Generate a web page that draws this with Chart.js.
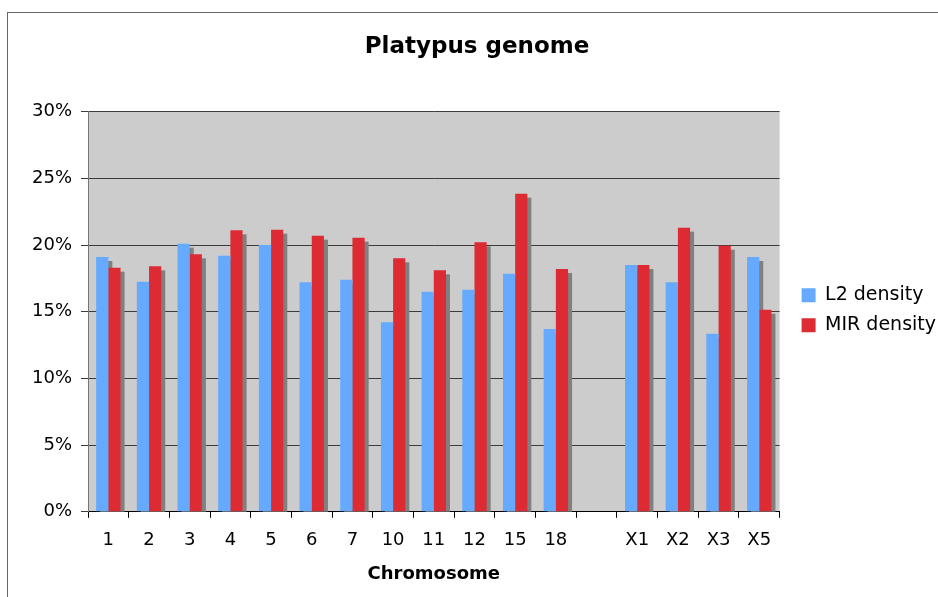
<!DOCTYPE html>
<html>
<head>
  <meta charset="UTF-8">
  <title>Platypus genome</title>
  <script src="https://cdn.jsdelivr.net/npm/chart.js@4.4.0/dist/chart.umd.min.js"></script>
  <style>
    body { margin: 0; background: #fff; }
    canvas { display: block; }
  </style>
</head>
<body>
  <canvas id="chart" width="938" height="597"></canvas>
  <script>
    // chromosome labels (blank slot separates autosomes from X chromosomes)
    const chromosomes = ['1', '2', '3', '4', '5', '6', '7', '10', '11', '12', '15', '18', '', 'X1', 'X2', 'X3', 'X5'];
    const l2Density = [19.1, 17.25, 20.1, 19.2, 20.0, 17.2, 17.4, 14.2, 16.5, 16.65, 17.85, 13.7, null, 18.5, 17.2, 13.35, 19.1];
    const mirDensity = [18.3, 18.4, 19.3, 21.1, 21.15, 20.7, 20.55, 19.0, 18.1, 20.2, 23.85, 18.2, null, 18.5, 21.3, 19.95, 15.15];

    const font = 'DejaVu Sans';

    // gray plot area + outer frame, excel style
    const backdrop = {
      id: 'backdrop',
      beforeDraw(chart) {
        const { ctx, chartArea: a } = chart;
        ctx.save();
        ctx.fillStyle = '#cccccc';
        ctx.fillRect(a.left, a.top, a.right - a.left, a.bottom - a.top);
        ctx.strokeStyle = '#666';
        ctx.lineWidth = 1;
        ctx.strokeRect(7.5, 12.5, 1200, 1200);
        ctx.restore();
      }
    };

    // gray drop shadow offset 4px right/down from every bar, drawn before the bars
    const barShadow = {
      id: 'barShadow',
      beforeDatasetsDraw(chart) {
        const { ctx, chartArea: a } = chart;
        ctx.save();
        ctx.beginPath();
        ctx.rect(a.left, a.top, a.right - a.left, a.bottom - a.top);
        ctx.clip();
        ctx.fillStyle = '#808080';
        chart.data.datasets.forEach((ds, i) => {
          chart.getDatasetMeta(i).data.forEach((bar, j) => {
            if (ds.data[j] == null) return;
            const p = bar.getProps(['x', 'y', 'base', 'width'], true);
            ctx.fillRect(p.x - p.width / 2 + 4, p.y + 4, p.width, p.base - p.y);
          });
        });
        ctx.restore();
      }
    };

    new Chart(document.getElementById('chart'), {
      type: 'bar',
      data: {
        labels: chromosomes,
        datasets: [
          { label: 'L2 density', data: l2Density, backgroundColor: '#66aaff' },
          { label: 'MIR density', data: mirDensity, backgroundColor: '#dd2b33' }
        ]
      },
      options: {
        responsive: false,
        animation: false,
        categoryPercentage: 0.6,
        barPercentage: 1.0,
        layout: { padding: { left: 8, right: -8, top: 0, bottom: 10 } },
        plugins: {
          title: {
            display: true,
            text: 'Platypus genome',
            color: '#000',
            font: { family: font, size: 23, weight: 'bold' },
            padding: { top: 33, bottom: 51 }
          },
          legend: {
            position: 'right',
            // empty legend title only pushes the items down a little
            title: { display: true, text: '', font: { family: font, size: 28 }, padding: 0 },
            labels: {
              color: '#000',
              font: { family: font, size: 19 },
              boxWidth: 14,
              boxHeight: 14,
              padding: 11
            }
          },
          tooltip: { enabled: false }
        },
        scales: {
          x: {
            grid: { display: true, drawOnChartArea: false, offset: true, color: '#000', tickLength: 6 },
            border: { color: '#000' },
            ticks: { color: '#000', font: { family: font, size: 18 }, padding: 12, maxRotation: 0, autoSkip: false },
            title: {
              display: true,
              text: 'Chromosome',
              color: '#000',
              font: { family: font, size: 18, weight: 'bold' },
              padding: { top: 0, bottom: 2 }
            }
          },
          y: {
            min: 0,
            max: 30,
            ticks: {
              stepSize: 5,
              color: '#000',
              font: { family: font, size: 18 },
              padding: 9,
              callback: v => v + '%'
            },
            grid: { color: '#3c3c3c', tickLength: 7 },
            border: { color: '#777' },
            afterFit(scale) { scale.width = 80; }
          },
          spacer: {
            type: 'linear',
            position: 'right',
            display: true,
            grid: { display: false },
            border: { display: false },
            ticks: { display: false },
            afterFit(scale) { scale.width = 11; }
          }
        }
      },
      plugins: [backdrop, barShadow]
    });
  </script>
</body>
</html>
